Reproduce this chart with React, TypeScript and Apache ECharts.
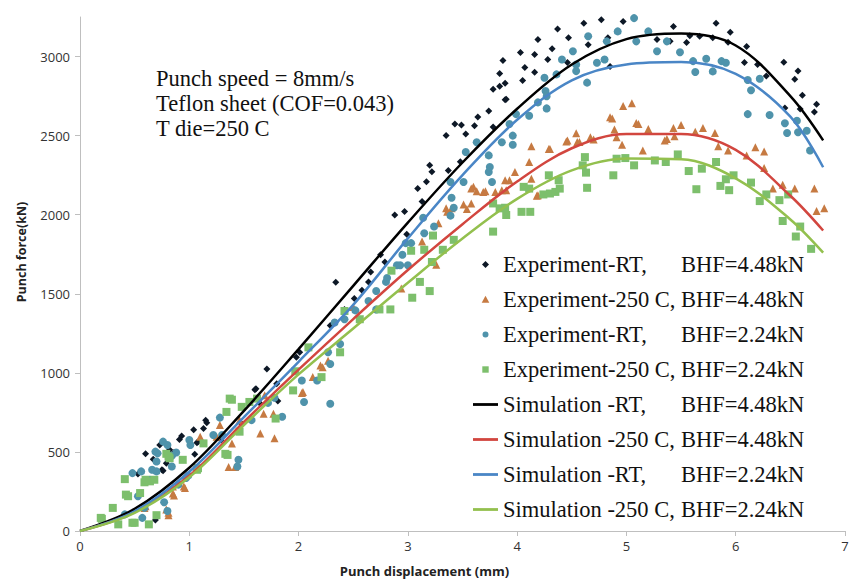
import React, { useEffect, useRef } from "react";
import * as echarts from "echarts";

// Simulation curves (x in mm, force in kN)
const xCurve = [0, 0.5, 1, 1.5, 2, 2.5, 3, 3.5, 4, 4.5, 5, 5.5, 6, 6.5, 6.8];
const simRT448 = [0, 140, 400, 760, 1150, 1550, 1950, 2330, 2670, 2950, 3110, 3145, 3070, 2750, 2470];
const sim250448 = [0, 120, 350, 690, 1020, 1340, 1650, 1940, 2210, 2420, 2510, 2510, 2410, 2120, 1900];
const simRT224 = [0, 125, 375, 720, 1070, 1430, 1850, 2250, 2600, 2850, 2950, 2965, 2890, 2620, 2300];
const sim250224 = [0, 115, 340, 670, 990, 1280, 1570, 1850, 2100, 2280, 2355, 2350, 2230, 1970, 1760];

// Experimental points [x, force]
const expRT448 = [
  [0.69, 70], [0.53, 360], [0.6, 488], [0.67, 454], [0.73, 544], [0.75, 387], [0.76, 381], [0.79, 429],
  [0.82, 513], [0.86, 496], [0.87, 491], [0.91, 579], [0.93, 600], [1.04, 640], [1.05, 485], [1.07, 558],
  [1.08, 565], [1.13, 648], [1.15, 701], [1.16, 684], [1.29, 575], [1.47, 684], [1.6, 893], [1.61, 899],
  [1.65, 805], [1.71, 1025], [1.8, 931], [1.81, 822], [1.98, 1098], [2.01, 1130], [2.29, 1299], [2.34, 1573],
  [2.42, 1401], [2.51, 1470], [2.58, 1523], [2.64, 1575], [2.66, 1638], [2.75, 1747], [2.79, 1701], [2.88, 1998],
  [2.97, 2020], [2.99, 1877], [3.09, 2165], [3.13, 2084], [3.17, 2209], [3.2, 2312], [3.22, 2271], [3.35, 2500],
  [3.37, 2280], [3.43, 2573], [3.48, 2335], [3.49, 2567], [3.53, 2510], [3.61, 2563], [3.64, 2617], [3.74, 2656],
  [3.78, 2793], [3.78, 2554], [3.84, 2893], [3.84, 2812], [3.87, 2975], [3.89, 2831], [3.89, 2726], [3.9, 2730],
  [4.03, 3025], [4.05, 2849], [4.07, 2931], [4.16, 3013], [4.16, 2900], [4.19, 3107], [4.28, 2981], [4.32, 3050],
  [4.37, 3174], [4.46, 2962], [4.47, 3119], [4.61, 3211], [4.65, 3075], [4.73, 2962], [4.77, 3232], [4.83, 3119],
  [4.85, 2937], [4.97, 3222], [5.28, 3107], [5.4, 3096], [5.43, 3190], [5.55, 3088], [5.58, 3132], [5.67, 3128],
  [5.79, 3119], [5.82, 3211], [5.93, 3090], [5.95, 3153], [6.08, 2962], [6.1, 3063], [6.2, 2950], [6.28, 2877],
  [6.44, 2964], [6.45, 2674], [6.54, 2856], [6.57, 2908], [6.59, 2668], [6.61, 2755], [6.72, 2649], [6.74, 2699],
];

const exp250448 = [
  [0.59, 146], [0.6, 157], [0.79, 136], [0.81, 115], [0.81, 100], [0.85, 282], [0.85, 237], [0.86, 225],
  [0.95, 282], [0.96, 272], [1.1, 596], [1.25, 596], [1.28, 670], [1.36, 404], [1.39, 554], [1.42, 404],
  [1.46, 701], [1.65, 617], [1.68, 742], [1.69, 858], [1.77, 742], [1.78, 586], [2.03, 872], [2.04, 879],
  [2.13, 973], [2.2, 1046], [2.22, 1035], [2.27, 1077], [2.5, 1416], [2.94, 1533], [3.13, 1831], [3.26, 1684],
  [3.28, 1946], [3.35, 2040], [3.36, 2018], [3.4, 2040], [3.51, 2065], [3.54, 2036], [3.58, 2071], [3.58, 2165],
  [3.6, 2176], [3.63, 2148], [3.69, 2144], [3.71, 2148], [3.8, 2144], [3.86, 2155], [3.89, 2218], [3.9, 2155],
  [3.93, 2218], [3.98, 2270], [4.11, 2333], [4.13, 2433], [4.13, 2228], [4.18, 2119], [4.19, 2123], [4.29, 2416],
  [4.3, 2416], [4.45, 2463], [4.46, 2469], [4.54, 2515], [4.55, 2459], [4.57, 2459], [4.67, 2490], [4.7, 2475],
  [4.85, 2616], [4.87, 2609], [4.89, 2538], [4.91, 2490], [4.96, 2442], [4.97, 2688], [5.05, 2705], [5.09, 2580],
  [5.11, 2573], [5.15, 2406], [5.2, 2542], [5.35, 2469], [5.37, 2479], [5.43, 2548], [5.44, 2496], [5.5, 2567],
  [5.63, 2525], [5.7, 2548], [5.81, 2517], [5.84, 2433], [5.93, 2406], [6.1, 2375], [6.18, 2427], [6.26, 2399],
  [6.26, 2295], [6.34, 2165], [6.43, 2190], [6.54, 2165], [6.72, 2165], [6.74, 2023], [6.81, 2040],
];

const expRT224 = [
  [0.41, 105], [0.48, 366], [0.53, 220], [0.56, 377], [0.57, 83], [0.59, 146], [0.64, 324], [0.66, 387],
  [0.69, 502], [0.7, 377], [0.7, 439], [0.71, 491], [0.76, 565], [0.77, 182], [0.8, 126], [0.8, 544],
  [0.84, 475], [0.84, 408], [0.88, 496], [0.9, 293], [0.97, 335], [0.99, 350], [1.0, 575], [1.01, 544],
  [1.22, 607], [1.28, 717], [1.3, 607], [1.44, 408], [1.45, 450], [1.57, 701], [1.72, 810], [1.78, 843],
  [1.85, 722], [2.03, 952], [2.05, 816], [2.17, 952], [2.27, 1130], [2.29, 805], [2.29, 1056], [2.33, 1318],
  [2.38, 1182], [2.42, 1339], [2.52, 1395], [2.64, 1454], [2.71, 1517], [2.71, 1401], [2.8, 1575], [2.81, 1600],
  [2.9, 1680], [2.93, 1680], [2.95, 1747], [2.98, 1820], [3.0, 1680], [3.03, 1820], [3.14, 1981], [3.15, 1883],
  [3.24, 1925], [3.39, 1994], [3.39, 2207], [3.4, 2107], [3.42, 2044], [3.51, 2207], [3.53, 2396], [3.63, 2458],
  [3.74, 2375], [3.74, 2270], [3.75, 2301], [3.77, 2207], [3.86, 2458], [3.93, 2573], [3.96, 2500], [3.96, 2442],
  [3.99, 2636], [4.11, 2626], [4.19, 2710], [4.25, 2866], [4.26, 2782], [4.27, 2749], [4.27, 2672], [4.36, 2887],
  [4.41, 2981], [4.51, 3033], [4.54, 2950], [4.54, 2908], [4.64, 2835], [4.65, 3128], [4.73, 2961], [4.8, 2981],
  [4.82, 3096], [4.92, 3159], [5.07, 3243], [5.09, 3096], [5.2, 3159], [5.28, 3033], [5.37, 3096], [5.49, 3027],
  [5.61, 2971], [5.63, 2902], [5.73, 2986], [5.79, 2906], [5.87, 2971], [5.91, 2961], [6.11, 2852], [6.11, 2636],
  [6.14, 2787], [6.22, 2860], [6.31, 2630], [6.45, 2578], [6.47, 2517], [6.56, 2594], [6.57, 2521], [6.65, 2531],
  [6.68, 2406],
];

const exp250224 = [
  [0.19, 83], [0.2, 77], [0.3, 146], [0.35, 42], [0.41, 328], [0.42, 230], [0.44, 220], [0.48, 52],
  [0.5, 52], [0.55, 240], [0.59, 308], [0.6, 324], [0.63, 42], [0.64, 314], [0.68, 324], [0.7, 100],
  [0.79, 488], [0.81, 471], [0.82, 460], [0.94, 450], [1.07, 387], [1.08, 397], [1.13, 554], [1.33, 488],
  [1.34, 753], [1.35, 481], [1.37, 837], [1.39, 830], [1.46, 628], [1.48, 785], [1.55, 816], [1.62, 837],
  [1.79, 711], [1.95, 889], [1.97, 1010], [2.09, 1161], [2.21, 973], [2.38, 1130], [2.42, 1391], [2.56, 1339],
  [2.74, 1401], [2.84, 1401], [2.85, 1646], [3.03, 1772], [3.04, 1475], [3.11, 1575], [3.15, 1778], [3.2, 1517],
  [3.22, 1701], [3.23, 1868], [3.32, 1778], [3.42, 1841], [3.78, 1893], [3.78, 2071], [3.84, 2040], [3.89, 2044],
  [3.9, 1998], [4.04, 2018], [4.06, 2176], [4.11, 2165], [4.12, 2018], [4.24, 2128], [4.29, 2249], [4.3, 2134],
  [4.35, 2144], [4.38, 2218], [4.39, 2165], [4.6, 2312], [4.62, 2364], [4.63, 2266], [4.64, 2170], [4.88, 2249],
  [4.91, 2354], [4.99, 2358], [5.07, 2312], [5.26, 2343], [5.36, 2333], [5.47, 2381], [5.57, 2276], [5.64, 2161],
  [5.69, 2291], [5.82, 2333], [5.86, 2182], [5.91, 2224], [5.94, 2155], [5.98, 2249], [6.14, 2203], [6.22, 2086],
  [6.28, 2128], [6.4, 2092], [6.43, 1960], [6.48, 2128], [6.55, 1862], [6.59, 1925], [6.69, 1784],
];

const xTicks = [0, 1, 2, 3, 4, 5, 6, 7];
const yTicks = [0, 500, 1000, 1500, 2000, 2500, 3000];
const annotationLines = ["Punch speed = 8mm/s", "Teflon sheet (COF=0.043)", "T die=250 C"];

const names = [
  "Experiment-RT, BHF=4.48kN",
  "Experiment-250 C, BHF=4.48kN",
  "Experiment-RT, BHF=2.24kN",
  "Experiment-250 C, BHF=2.24kN",
  "Simulation -RT, BHF=4.48kN",
  "Simulation -250 C, BHF=4.48kN",
  "Simulation -RT, BHF=2.24kN",
  "Simulation -250 C, BHF=2.24kN",
];

// legend icons drawn in a 25 x 8 box (the leading moves fix the box size)
const BOX = "M0,0 M25,8 ";
const iconDiamond = "path://" + BOX + "M12.5,0.5 L16,4 L12.5,7.5 L9,4 Z";
const iconTriangle = "path://" + BOX + "M12.5,0.3 L16.3,7.3 L8.7,7.3 Z";
const iconCircle = "path://" + BOX + "M9.5,4 A3,3 0 1,0 15.5,4 A3,3 0 1,0 9.5,4 Z";
const iconSquare = "path://" + BOX + "M9.3,0.8 L15.7,0.8 L15.7,7.2 L9.3,7.2 Z";
const iconLine = "path://" + BOX + "M0,2.6 L25,2.6 L25,5.4 L0,5.4 Z";
const legendIcons = [iconDiamond, iconTriangle, iconCircle, iconSquare, iconLine, iconLine, iconLine, iconLine];

const toPairs = (ys: number[]) => xCurve.map((x, i) => [x, ys[i]]);

export default function App() {
  const ref = useRef<HTMLDivElement>(null);
  useEffect(() => {
    const chart = echarts.init(ref.current!, null, { renderer: "svg" });
    const scatter = (name: string, data: number[][], symbol: string, size: number, color: string) => ({
      name,
      type: "scatter",
      data,
      symbol,
      symbolSize: size,
      itemStyle: { color, opacity: 1 },
      z: 2,
    });
    const line = (name: string, ys: number[], color: string) => ({
      name,
      type: "line",
      data: toPairs(ys),
      smooth: 0.35,
      showSymbol: false,
      symbol: "none",
      lineStyle: { color, width: 2.5 },
      itemStyle: { color },
      z: 3,
    });
    chart.setOption({
      animation: false,
      backgroundColor: "#ffffff",
      grid: { left: 80, right: 12, top: 17, bottom: 47, containLabel: false },
      xAxis: {
        type: "value",
        min: 0,
        max: 7,
        interval: 1,
        name: "Punch displacement (mm)",
        nameLocation: "middle",
        nameGap: 33,
        nameTextStyle: { fontFamily: "Open Sans", fontWeight: "bold", fontSize: 13, color: "#222", padding: [0, 76, 0, 0] },
        axisLine: { lineStyle: { color: "#bfbfbf", width: 1 } },
        axisTick: { show: true, inside: false, length: 5, lineStyle: { color: "#bfbfbf" } },
        axisLabel: { fontFamily: "Open Sans", fontSize: 13, color: "#333", margin: 8, formatter: (v: number) => (xTicks.includes(v) ? String(v) : "") },
        splitLine: { show: false },
      },
      yAxis: {
        type: "value",
        min: 0,
        max: 3250,
        interval: 500,
        name: "Punch force(kN)",
        nameLocation: "middle",
        nameGap: 52,
        nameRotate: 90,
        nameTextStyle: { fontFamily: "Open Sans", fontWeight: "bold", fontSize: 12.5, color: "#222", padding: [0, 0, 0, 44] },
        axisLine: { show: true, lineStyle: { color: "#bfbfbf", width: 1 } },
        axisTick: { show: true, length: 5, lineStyle: { color: "#bfbfbf" } },
        axisLabel: {
          fontFamily: "Open Sans",
          fontSize: 13,
          color: "#333",
          margin: 10,
          showMaxLabel: false,
          formatter: (v: number) => (yTicks.includes(v) ? String(v) : ""),
        },
        splitLine: { show: false },
      },
      legend: {
        orient: "vertical",
        left: 468,
        top: 248,
        itemWidth: 25,
        itemHeight: 8,
        itemGap: 12,
        data: names.map((n, i) => ({ name: n, icon: legendIcons[i] })),
        formatter: (n: string) => {
          const idx = n.indexOf(", ");
          return `{a|${n.slice(0, idx + 1)}}{b|${n.slice(idx + 2)}}`;
        },
        textStyle: {
          fontFamily: "Liberation Serif",
          fontSize: 22.5,
          color: "#111",
          rich: {
            a: { fontFamily: "Liberation Serif", fontSize: 22.5, color: "#111", width: 178, lineHeight: 22 },
            b: { fontFamily: "Liberation Serif", fontSize: 22.5, color: "#111", lineHeight: 22 },
          },
        },
      },
      graphic: annotationLines.map((t, i) => ({
        type: "text",
        left: 156,
        top: 67 + i * 25,
        style: { text: t, fontFamily: "Liberation Serif", fontSize: 22.5, fill: "#111" },
      })),
      series: [
        scatter(names[0], expRT448, "diamond", 7, "#0d1826"),
        scatter(names[1], exp250448, "triangle", 8, "#c67a42"),
        scatter(names[2], expRT224, "circle", 8, "#4f93ab"),
        scatter(names[3], exp250224, "rect", 8, "#7dbf6c"),
        line(names[4], simRT448, "#000000"),
        line(names[5], sim250448, "#d2463f"),
        line(names[6], simRT224, "#4a86c6"),
        line(names[7], sim250224, "#93c04e"),
      ],
    });
    return () => chart.dispose();
  }, []);
  return <div ref={ref} style={{ position: "fixed", left: 0, top: 0, width: 857, height: 582 }} />;
}
